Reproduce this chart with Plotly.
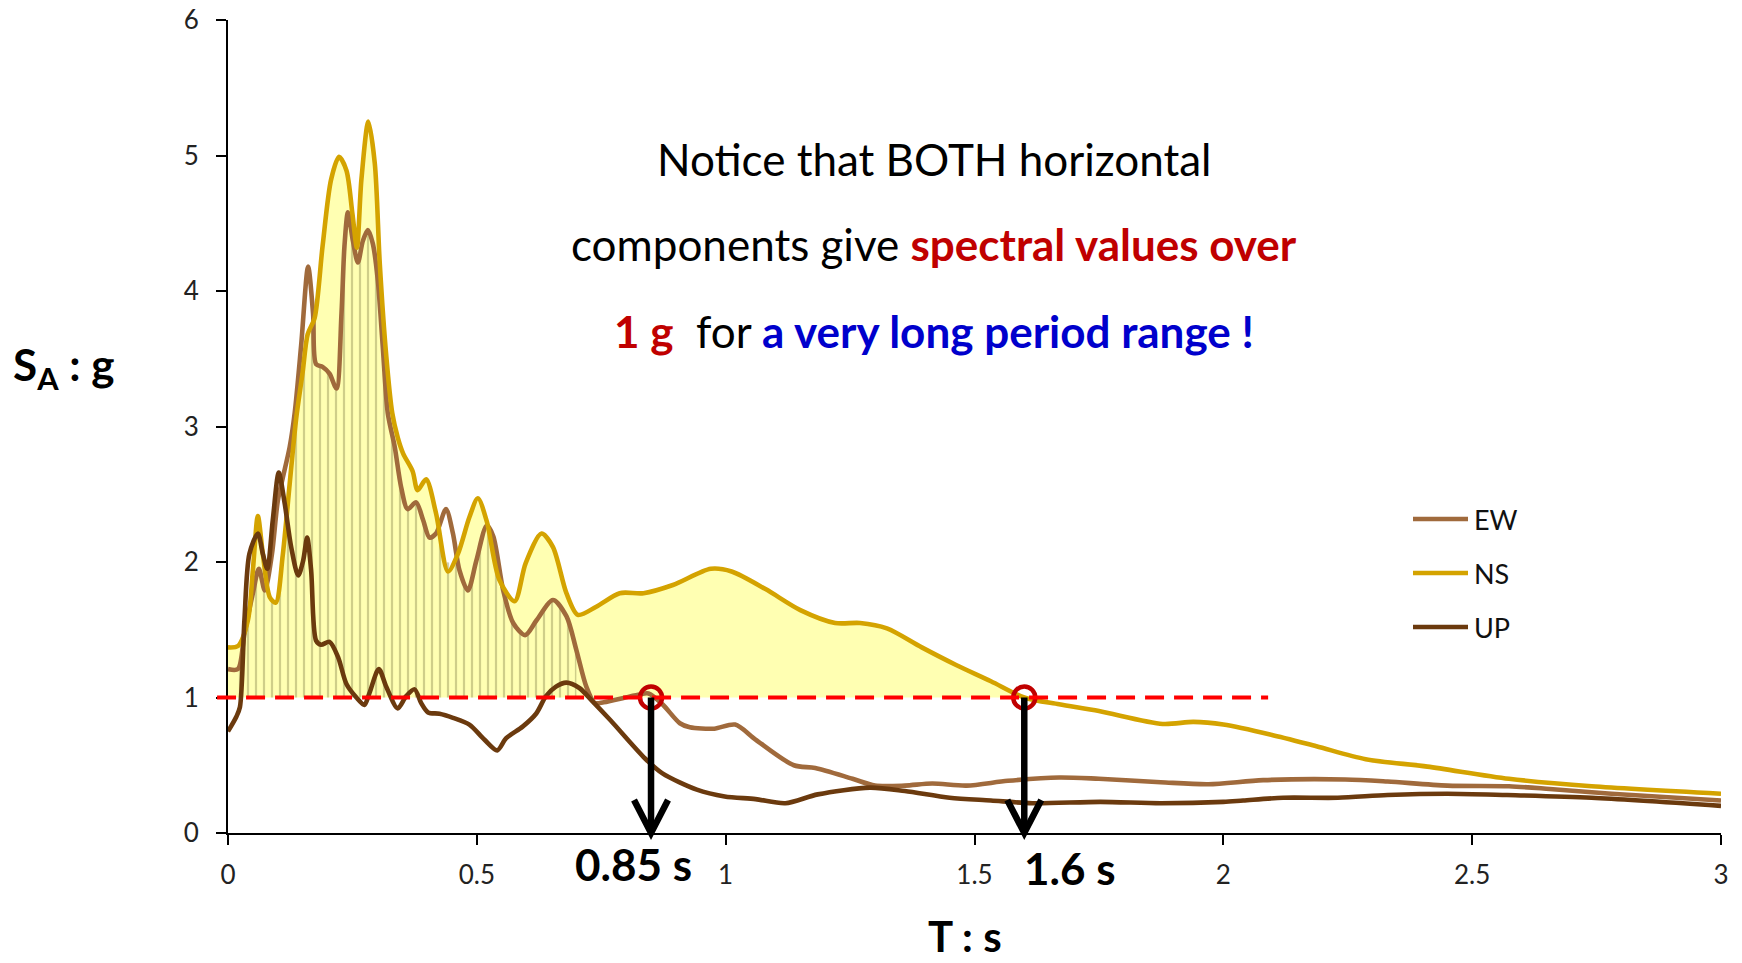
import numpy as np
import plotly.graph_objects as go

# ---------------- spectral acceleration data (T in s, SA in g) ----------------
t_ns = [0.0, 0.02, 0.04, 0.05, 0.06, 0.07, 0.084, 0.096, 0.11, 0.124,
        0.137, 0.15, 0.16, 0.174, 0.19, 0.207, 0.223, 0.238, 0.25, 0.259,
        0.268, 0.282, 0.295, 0.305, 0.318, 0.33, 0.341, 0.352, 0.371, 0.381,
        0.398, 0.418, 0.442, 0.462, 0.485, 0.502, 0.52, 0.545, 0.576, 0.598,
        0.63, 0.653, 0.68, 0.703, 0.74, 0.787, 0.835, 0.894, 0.97, 1.012,
        1.08, 1.15, 1.22, 1.27, 1.324, 1.394, 1.463, 1.533, 1.6, 1.67,
        1.75, 1.878, 1.94, 2.0, 2.096, 2.187, 2.286, 2.41, 2.574, 2.74, 3.0]
sa_ns = [1.37, 1.38, 1.57, 1.94, 2.34, 2.06, 1.74, 1.70, 2.05, 2.58,
         3.06, 3.40, 3.68, 3.80, 4.33, 4.82, 4.99, 4.89, 4.57, 4.32,
         4.82, 5.25, 4.94, 4.20, 3.52, 3.10, 2.92, 2.80, 2.67, 2.53,
         2.61, 2.36, 1.93, 2.06, 2.33, 2.47, 2.30, 1.87, 1.71, 1.99,
         2.21, 2.11, 1.77, 1.61, 1.67, 1.77, 1.77, 1.83, 1.95, 1.93,
         1.80, 1.645, 1.55, 1.55, 1.51, 1.37, 1.24, 1.12, 1.00, 0.95,
         0.90, 0.805, 0.82, 0.80, 0.725, 0.64, 0.545, 0.49, 0.40, 0.345, 0.29]

t_ew = [0.0, 0.02, 0.033, 0.05, 0.062, 0.074, 0.088, 0.1, 0.11, 0.124,
        0.134, 0.147, 0.161, 0.171, 0.177, 0.19, 0.204, 0.218, 0.228, 0.234,
        0.241, 0.251, 0.261, 0.271, 0.281, 0.291, 0.301, 0.311, 0.321, 0.335,
        0.348, 0.361, 0.378, 0.392, 0.405, 0.418, 0.438, 0.452, 0.465, 0.482,
        0.499, 0.52, 0.533, 0.553, 0.573, 0.597, 0.62, 0.653, 0.68, 0.7,
        0.72, 0.737, 0.755, 0.824, 0.845, 0.873, 0.908, 0.928, 0.977, 1.019,
        1.06, 1.137, 1.18, 1.255, 1.30, 1.36, 1.415, 1.484, 1.567, 1.67,
        1.75, 1.874, 1.97, 2.08, 2.245, 2.33, 2.45, 2.574, 2.656, 2.78, 3.0]
sa_ew = [1.21, 1.21, 1.47, 1.77, 1.95, 1.79, 2.05, 2.45, 2.62, 2.85,
         3.10, 3.60, 4.18, 3.83, 3.46, 3.44, 3.39, 3.28, 3.83, 4.33,
         4.58, 4.37, 4.21, 4.37, 4.45, 4.35, 4.08, 3.59, 3.10, 2.85,
         2.55, 2.39, 2.44, 2.31, 2.18, 2.21, 2.39, 2.21, 1.94, 1.79,
         2.01, 2.27, 2.19, 1.79, 1.55, 1.46, 1.57, 1.72, 1.60, 1.35,
         1.08, 0.96, 0.965, 1.02, 1.03, 0.95, 0.81, 0.78, 0.77, 0.80,
         0.69, 0.50, 0.48, 0.40, 0.35, 0.35, 0.365, 0.35, 0.385, 0.41,
         0.40, 0.375, 0.36, 0.39, 0.395, 0.38, 0.35, 0.345, 0.325, 0.29, 0.24]

t_up = [0.0, 0.017, 0.024, 0.033, 0.043, 0.06, 0.07, 0.079, 0.09, 0.102,
        0.114, 0.127, 0.141, 0.151, 0.159, 0.167, 0.177, 0.187, 0.204, 0.221,
        0.238, 0.258, 0.274, 0.284, 0.303, 0.318, 0.341, 0.358, 0.375, 0.388,
        0.402, 0.425, 0.452, 0.485, 0.515, 0.541, 0.559, 0.592, 0.619, 0.639,
        0.659, 0.68, 0.706, 0.733, 0.769, 0.838, 0.873, 0.942, 0.998, 1.06,
        1.12, 1.185, 1.29, 1.36, 1.45, 1.533, 1.616, 1.753, 1.874, 2.0,
        2.04, 2.12, 2.23, 2.33, 2.45, 2.57, 2.74, 3.0]
sa_up = [0.75, 0.86, 0.93, 1.57, 2.06, 2.21, 2.06, 1.95, 2.31, 2.66,
         2.43, 2.11, 1.90, 2.01, 2.18, 1.94, 1.42, 1.39, 1.41, 1.30,
         1.10, 1.00, 0.945, 1.03, 1.21, 1.08, 0.92, 1.01, 1.06, 0.96,
         0.89, 0.88, 0.85, 0.80, 0.69, 0.61, 0.70, 0.785, 0.88, 1.01,
         1.08, 1.11, 1.07, 0.97, 0.83, 0.55, 0.44, 0.32, 0.27, 0.25,
         0.22, 0.285, 0.335, 0.31, 0.26, 0.24, 0.22, 0.23, 0.22, 0.23,
         0.24, 0.26, 0.26, 0.28, 0.29, 0.28, 0.26, 0.20]

# axis ticks
x_ticks = [0, 0.5, 1, 1.5, 2, 2.5, 3]
x_tick_text = ["0", "0.5", "1", "1.5", "2", "2.5", "3"]
y_ticks = [0, 1, 2, 3, 4, 5, 6]
y_tick_text = ["0", "1", "2", "3", "4", "5", "6"]

# 1 g threshold and the periods where the horizontal spectra drop below it
threshold_g = 1.0
t_marks = [0.85, 1.6]
mark_labels = ["0.85 s", "1.6 s"]
threshold_span = [-0.022, 2.09]      # extent of the dashed 1 g line (s)
hatch_span = [0.015, 0.70]            # hatched band under the EW curve (s)

series_names = ["EW", "NS", "UP"]
series_colors = {"EW": "#A06A3C", "NS": "#D4A300", "UP": "#6B3A0E"}

# ---------------- layout geometry ----------------
W, H = 1742, 963
ML, MR, MT, MB = 228, 21, 20, 130
PW, PH = W - ML - MR, H - MT - MB
XMAX, YMAX = 3.0, 6.0
FONT = "Lato"


def px_x(px):
    """page pixel x -> paper fraction"""
    return (px - ML) / PW


def px_y(py):
    """page pixel y -> paper fraction"""
    return (H - MB - py) / PH


fig = go.Figure()

# light yellow band where NS exceeds 1 g
ns_t = np.array(t_ns)
ns_v = np.array(sa_ns)
sel = ns_t <= t_marks[1] + 1e-9
fig.add_trace(go.Scatter(x=ns_t[sel], y=np.full(sel.sum(), threshold_g), mode="lines",
                         line=dict(width=0, shape="spline"), hoverinfo="skip", showlegend=False))
fig.add_trace(go.Scatter(x=ns_t[sel], y=ns_v[sel], mode="lines",
                         line=dict(width=0, shape="spline", smoothing=0.8), fill="tonexty",
                         fillcolor="#FFFFB2", hoverinfo="skip", showlegend=False))

# vertical hatching up to the EW curve
ew_t = np.array(t_ew)
hx = np.concatenate([[hatch_span[0]],
                     ew_t[(ew_t > hatch_span[0]) & (ew_t < hatch_span[1])],
                     [hatch_span[1]]])
hy = np.minimum(np.interp(hx, t_ew, sa_ew), np.interp(hx, t_ns, sa_ns))
fig.add_trace(go.Scatter(x=hx, y=np.full(len(hx), threshold_g), mode="lines",
                         line=dict(width=0, shape="spline"), hoverinfo="skip", showlegend=False))
fig.add_trace(go.Scatter(x=hx, y=hy, mode="lines",
                         line=dict(width=0, shape="spline", smoothing=0.8),
                         fill="tonexty", fillcolor="rgba(0,0,0,0)",
                         fillpattern=dict(shape="|", size=8, solidity=0.28,
                                          fgcolor="#9F9D60", bgcolor="rgba(0,0,0,0)"),
                         hoverinfo="skip", showlegend=False))

# spectra
data = {"EW": (t_ew, sa_ew), "NS": (t_ns, sa_ns), "UP": (t_up, sa_up)}
for name in series_names:
    t, v = data[name]
    fig.add_trace(go.Scatter(x=t, y=v, mode="lines", name=name,
                             line=dict(color=series_colors[name], width=4.6,
                                       shape="spline", smoothing=0.8),
                             showlegend=False))

# open circles at the 1 g crossings
fig.add_trace(go.Scatter(x=t_marks, y=[threshold_g] * len(t_marks), mode="markers",
                         marker=dict(symbol="circle-open", size=22, color="#C00000",
                                     line=dict(width=4.5, color="#C00000")),
                         hoverinfo="skip", showlegend=False, cliponaxis=False))

shapes = []
# dashed 1 g line (clipped vertically only)
shapes.append(dict(type="line", xref="paper", yref="y",
                   x0=threshold_span[0] / XMAX, x1=threshold_span[1] / XMAX,
                   y0=threshold_g, y1=threshold_g,
                   line=dict(color="#FF0000", width=4, dash="19px,10px"), layer="above"))

# downward arrows from the crossings to the period axis
head_dx = 17 / (PW / XMAX)
head_dy = 33 / PH
for t in t_marks:
    shapes.append(dict(type="line", xref="x", yref="paper", x0=t, x1=t,
                       y0=threshold_g / YMAX, y1=0.004,
                       line=dict(color="black", width=6.5), layer="above"))
    shapes.append(dict(type="path", xref="x", yref="paper",
                       path=f"M{t - head_dx},{head_dy} L{t},0 L{t + head_dx},{head_dy}",
                       line=dict(color="black", width=6.5), layer="above"))

# legend drawn as line samples with labels
legend_rows = [519, 573, 627]
for name, py in zip(series_names, legend_rows):
    shapes.append(dict(type="line", xref="paper", yref="paper",
                       x0=px_x(1413), x1=px_x(1468), y0=px_y(py), y1=px_y(py),
                       line=dict(color=series_colors[name], width=4.5)))

annotations = []
for name, py in zip(series_names, legend_rows):
    annotations.append(dict(xref="paper", yref="paper", x=px_x(1472), y=px_y(py),
                            text=name, showarrow=False, xanchor="left", yanchor="middle",
                            font=dict(family=FONT, size=27, color="#111")))

msg_lines = [
    "Notice that BOTH horizontal",
    "components give <span style='color:#C00000'><b>spectral values over</b></span>",
    "<span style='color:#C00000'><b>1 g</b></span>&nbsp; for "
    "<span style='color:#0000CC'><b>a very long period range !</b></span>",
]
for txt, py in zip(msg_lines, [159, 244, 331]):
    annotations.append(dict(xref="paper", yref="paper", x=px_x(934), y=px_y(py),
                            text=txt, showarrow=False, xanchor="center", yanchor="middle",
                            font=dict(family=FONT, size=44, color="black")))

# period labels under the arrows
for lab, (cx, cy) in zip(mark_labels, [(633, 864), (1070, 868)]):
    annotations.append(dict(xref="paper", yref="paper", x=px_x(cx), y=px_y(cy),
                            text=f"<b>{lab}</b>", showarrow=False,
                            xanchor="center", yanchor="middle",
                            font=dict(family=FONT, size=44, color="black")))

# axis titles
annotations.append(dict(xref="paper", yref="paper", x=px_x(965), y=px_y(963),
                        text="<b>T : s</b>", showarrow=False, xanchor="center",
                        yanchor="bottom", font=dict(family=FONT, size=42, color="black")))
annotations.append(dict(xref="paper", yref="paper", x=px_x(63), y=px_y(367),
                        text="<b>S<sub>A</sub> : g</b>", showarrow=False, xanchor="center",
                        yanchor="middle", font=dict(family=FONT, size=44, color="black")))

axis_common = dict(showline=True, linecolor="black", linewidth=2, ticks="outside",
                   ticklen=10, tickwidth=2, tickcolor="black", showgrid=False,
                   zeroline=False, automargin=False,
                   tickfont=dict(family=FONT, size=26, color="#222"))

fig.update_layout(
    width=W, height=H,
    margin=dict(l=ML, r=MR, t=MT, b=MB, autoexpand=False),
    paper_bgcolor="white", plot_bgcolor="white",
    showlegend=False,
    shapes=shapes, annotations=annotations,
    xaxis=dict(range=[0, XMAX], tickvals=x_ticks, ticktext=x_tick_text,
               ticklabelstandoff=8, **axis_common),
    yaxis=dict(range=[0, YMAX], tickvals=y_ticks, ticktext=y_tick_text,
               ticklabelstandoff=12, **axis_common),
)

fig.write_html("out.html")
